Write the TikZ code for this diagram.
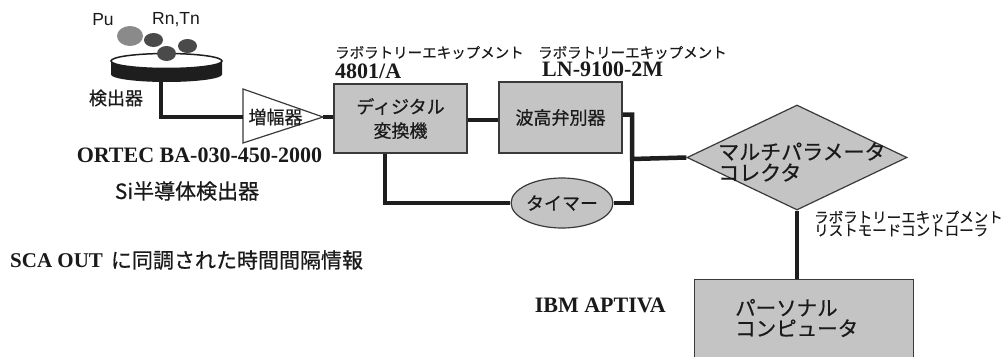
\documentclass[tikz,border=0pt]{standalone}
\usepackage{fontspec}
\setmainfont{Liberation Serif}
\newfontfamily\jp[FakeBold=0.6]{Noto Sans CJK JP}
\newfontfamily\arial{Liberation Sans}
\usetikzlibrary{shapes.geometric}

\begin{document}
\begin{tikzpicture}[x=1pt,y=-1pt,
  blocco/.style={draw=colBordo, line width=1.2pt, fill=colBlocco, inner sep=0pt},
  filo/.style={draw=colFilo, line width=4.5pt},
  testo/.style={font=\jp\fontsize{18}{24}\selectfont, text=colTesto, align=center, inner sep=0pt},
  grande/.style={font=\jp\fontsize{21}{21}\selectfont, text=colTesto, align=left, inner sep=0pt},
  sigla/.style={font=\fontsize{22}{24}\selectfont\bfseries, text=colTesto, inner sep=0pt},
  ditta/.style={font=\jp\fontsize{14.5}{13}\selectfont, text=colTesto, align=left, inner sep=0pt}]

% Colori
\definecolor{colBlocco}{HTML}{C4C4C4}
\definecolor{colBordo}{HTML}{3A3A3A}
\definecolor{colFilo}{HTML}{1E1E1E}
\definecolor{colTesto}{HTML}{1A1A1A}
\definecolor{colDisco}{HTML}{1E1E1E}
\definecolor{colPu}{HTML}{8A8A8A}
\definecolor{colRn}{HTML}{4A4A4A}

\useasboundingbox (0,0) rectangle (1008,356);
\clip (0,0) rectangle (1008,356);
\fill[white] (0,0) rectangle (1008,356);

% Rivelatore (disco) e particelle
\fill[colDisco] (111,61) -- (111,74.5) arc[start angle=180,end angle=0,x radius=55.5,y radius=7.5] -- (222,61) -- cycle;
\filldraw[fill=white, draw=colDisco, line width=1.5pt] (166.5,61) ellipse[x radius=55.5,y radius=7.5];
\fill[colPu] (130,36) ellipse[x radius=13,y radius=10];
\fill[colRn] (153.5,40) ellipse[x radius=9.5,y radius=7];
\fill[colRn] (166.5,53.5) ellipse[x radius=9.5,y radius=7.5];
\fill[colRn] (187.5,46) ellipse[x radius=9.5,y radius=7];
\coordinate (detbase) at (161,80);

\node[font=\arial\fontsize{17.5}{18}\selectfont, text=colTesto] (pu) at (103,20) {Pu};
\node[font=\arial\fontsize{17.5}{18}\selectfont, text=colTesto] (rn) at (176,20) {Rn,Tn};
\node[testo] (det) at (116,98) {検出器};

% Amplificatore
\coordinate (ampin) at (243,117);
\coordinate (ampout) at (323,117);
\filldraw[fill=white, draw=colBordo, line width=1.2pt] (243,89) -- (ampout) -- (243,143) -- cycle;
\node[testo] (amp) at (275.5,117) {増幅器};

% Blocchi
\node[blocco, testo, minimum width=133pt, minimum height=69pt] (dig) at (400.5,118.5) {ディジタル\\変換機};
\node[blocco, testo, minimum width=123pt, minimum height=71pt] (wave) at (560.5,117.5) {波高弁別器};
\node[blocco, testo, ellipse, minimum width=90pt, minimum height=50pt] (timer) at (562,203) {タイマー};
\node[blocco, diamond, minimum width=220pt, minimum height=105pt] (mpc) at (797,157.5) {};
\node[grande, anchor=west] (mpctxt) at (718,162) {マルチパラメータ\\コレクタ};
\node[blocco, anchor=north west, minimum width=219pt, minimum height=110pt] (pc) at (694,279) {};
\node[grande, anchor=west, font=\jp\fontsize{20.5}{20.5}\selectfont] (pctxt) at (735,318) {パーソナル\\コンピュータ};

% Collegamenti
\coordinate (nodo) at (632,159);
\draw[filo] (detbase) |- (ampin);
\draw[filo] (ampout) -- (dig.west |- ampout);
\draw[filo] (dig.east |- 0,120) -- (wave.west |- 0,120);
\draw[filo] ([yshift=3pt]wave.east) -| (nodo) -- (mpc.west);
\draw[filo] ([xshift=-15.5pt]dig.south) |- (timer.west);
\draw[filo] (timer.east) -| (nodo);
\draw[filo] (mpc.south) -- (mpc.south |- pc.north);

% Etichette degli strumenti
\node[ditta, anchor=west] (lab1) at (335,52.5) {ラボラトリーエキップメント};
\node[sigla, anchor=west] (mod1) at (335,71) {4801/A};
\node[ditta, anchor=west] (lab2) at (538,52.5) {ラボラトリーエキップメント};
\node[sigla, anchor=west] (mod2) at (542,69.5) {LN-9100-2M};
\node[ditta, anchor=west] (lab3) at (814,223.5) {ラボラトリーエキップメント\\リストモードコントローラ};
\node[sigla, anchor=east] (ibm) at (666,305) {IBM APTIVA};

\node[sigla] (ortec) at (199.5,155) {ORTEC BA-030-450-2000};
\node[grande] (si) at (187,191) {Si半導体検出器};
\node[grande, anchor=west] (sca) at (10,260) {{\rmfamily\bfseries SCA OUT}\hspace{8pt}に同調された時間間隔情報};

\end{tikzpicture}
\end{document}
